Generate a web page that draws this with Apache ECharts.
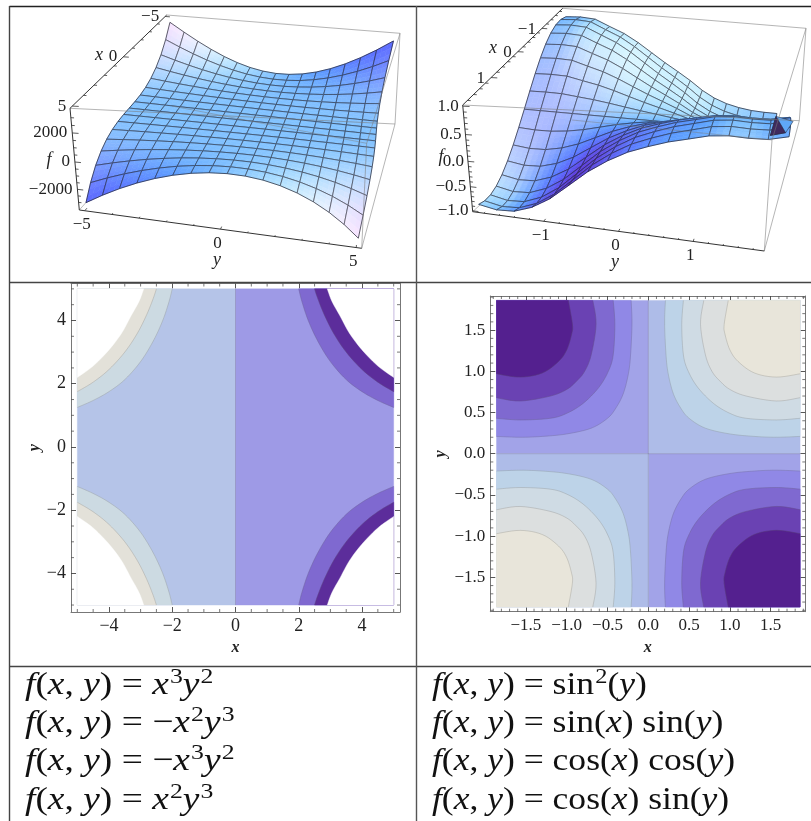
<!DOCTYPE html>
<html><head><meta charset="utf-8">
<style>html,body{margin:0;padding:0;background:#fff}#c{width:811px;height:821px}</style>
<script src="https://cdn.jsdelivr.net/npm/echarts@6/dist/echarts.min.js"></script>
</head><body><div id="c"></div>
<script>
// ---------- surface A: height profiles, back -> front and left -> right
const surfAx = [-5,-4.375,-3.75,-3.125,-2.5,-1.875,-1.25,-0.625,0,0.625,1.25,1.875,2.5,3.125,3.75,4.375,5];
const surfAy = surfAx;
const surfAxProfile = [1,0.67,0.42,0.244,0.125,0.053,0.016,0.002,0,-0.002,-0.016,-0.053,-0.125,-0.244,-0.42,-0.67,-1];
const surfAyProfile = [3125,2393,1758,1221,781,439,195,49,0,49,195,439,781,1221,1758,2393,3125];
// ---------- surface B: back half uses the back-edge profile, front half the front-edge profile
const surfBx = [-1.885,-1.649,-1.414,-1.178,-0.942,-0.707,-0.471,-0.236,0,0.236,0.471,0.707,0.942,1.178,1.414,1.649,1.885];
const surfBy = surfBx;
const surfBxProfile = [0.95,0.997,0.988,0.924,0.809,0.649,0.454,0.233,0,-0.233,-0.454,-0.649,-0.809,-0.924,-0.988,-0.997,-0.95];
const surfByBack = [0.93,0.95,0.93,0.8,0.68,0.52,0.34,0.17,0.02,-0.13,-0.29,-0.41,-0.49,-0.54,-0.57,-0.58,-0.58];
const surfByFront = [0.93,1.0,0.98,0.85,0.63,0.33,0.03,-0.2,-0.38,-0.5,-0.6,-0.67,-0.74,-0.76,-0.74,-0.74,-0.8];
// small end pieces of surface B at the far right, as (x, y, f)
const bEndBlue = [[-1.885,1.885,-0.6],[1.885,1.885,0.98],[0,1.95,0],[-1.885,1.885,-0.92]];
const bEndDark = [[-1.885,1.885,-0.6],[0,1.95,0],[-1.885,1.885,-0.92]];
// ---------- 3D tick values
const aYMajor=[-5,0,5], aYMinor=[-4,-3,-2,-1,1,2,3,4];
const aXMajor=[-5,0,5], aXMinor=[-4,-3,-2,-1,1,2,3,4];
const aZMajor=[-2000,0,2000], aZMinor=[-3000,-2500,-1500,-1000,-500,500,1000,1500,2500,3000];
const bYMajor=[-1,0,1], bYMinor=[-1.8,-1.6,-1.4,-1.2,-0.8,-0.6,-0.4,-0.2,0.2,0.4,0.6,0.8,1.2,1.4,1.6,1.8];
const bXMajor=[-1,0,1], bXMinor=bYMinor;
const bZMajor=[-1,-0.5,0,0.5,1], bZMinor=[-0.9,-0.8,-0.7,-0.6,-0.4,-0.3,-0.2,-0.1,0.1,0.2,0.3,0.4,0.6,0.7,0.8,0.9];
// ---------- contour curves of panel C (one quadrant, right edge -> top edge)
const cCurve1 = [[5,1.25],[4.5,1.47],[4,1.75],[3.5,2.13],[3,2.7],[2.6,3.35],[2.3,4.0],[2.1,4.6],[2,5]];
const cCurve2 = [[5,1.75],[4.5,2.05],[4,2.45],[3.5,3.0],[3.1,3.6],[2.8,4.2],[2.6,4.7],[2.5,5]];
const cCurve3 = [[5,2.2],[4.5,2.56],[4,3.07],[3.6,3.6],[3.3,4.15],[3.05,4.6],[2.9,5]];
// ---------- contour curves of panel D (one quadrant, right edge -> top edge)
const dCurve1 = [[1.86,0.21],[1.57,0.2],[1.3,0.21],[1.0,0.24],[0.7,0.31],[0.5,0.43],[0.4,0.55],[0.31,0.72],[0.25,0.94],[0.22,1.16],[0.2,1.57],[0.21,1.86]];
const dCurve2 = [[1.86,0.43],[1.57,0.41],[1.2,0.43],[1.0,0.49],[0.8,0.61],[0.61,0.8],[0.49,1.0],[0.43,1.2],[0.41,1.57],[0.43,1.86]];
const dCurve3 = [[1.86,0.68],[1.57,0.64],[1.2,0.70],[1.0,0.78],[0.88,0.88],[0.78,1.0],[0.7,1.2],[0.64,1.57],[0.68,1.86]];
const dCurve4 = [[1.86,0.97],[1.57,0.93],[1.3,0.98],[1.1,1.12],[1.0,1.26],[0.94,1.45],[0.93,1.57],[0.98,1.86]];
// ---------- contour axis ticks
const cMajor=[-4,-2,0,2,4];
const cMinor=[-5,-4.5,-3.5,-3,-2.5,-1.5,-1,-0.5,0.5,1,1.5,2.5,3,3.5,4.5,5];
const dMajor=[-1.5,-1,-0.5,0,0.5,1,1.5];
const dMinor=[-1.9,-1.8,-1.7,-1.6,-1.4,-1.3,-1.2,-1.1,-0.9,-0.8,-0.7,-0.6,-0.4,-0.3,-0.2,-0.1,0.1,0.2,0.3,0.4,0.6,0.7,0.8,0.9,1.1,1.2,1.3,1.4,1.6,1.7,1.8,1.9];
// ---------- equations of the table
const eqLeft = [
 '{i|f}{r|(}{i|x}{r|, }{i|y}{r|) = }{i|x}{s|3}{i|y}{s|2}',
 '{i|f}{r|(}{i|x}{r|, }{i|y}{r|) = −}{i|x}{s|2}{i|y}{s|3}',
 '{i|f}{r|(}{i|x}{r|, }{i|y}{r|) = −}{i|x}{s|3}{i|y}{s|2}',
 '{i|f}{r|(}{i|x}{r|, }{i|y}{r|) = }{i|x}{s|2}{i|y}{s|3}'];
const eqRight = [
 '{i|f}{r|(}{i|x}{r|, }{i|y}{r|) = sin}{s|2}{r|(}{i|y}{r|)}',
 '{i|f}{r|(}{i|x}{r|, }{i|y}{r|) = sin(}{i|x}{r|) sin(}{i|y}{r|)}',
 '{i|f}{r|(}{i|x}{r|, }{i|y}{r|) = cos(}{i|x}{r|) cos(}{i|y}{r|)}',
 '{i|f}{r|(}{i|x}{r|, }{i|y}{r|) = cos(}{i|x}{r|) sin(}{i|y}{r|)}'];

// ---------- layout and style
const SERIF='"Liberation Serif",serif';
const INK='#222';
const panelA={
  xr:[-5.2,5.2], yr:[-5.2,5.2], zr:[-3600,3600],
  TBL:[166.7,15],TBR:[400,33.3],TFR:[395,124],TFL:[70,108.3],
  BBL:[172,106],BBR:[366.7,143.3],BFR:[361.7,248.3],BFL:[79.3,210],
  xv:surfAx,yv:surfAy,height:(i,j)=>surfAxProfile[i]*surfAyProfile[j],
  yMajor:aYMajor,yMinor:aYMinor,xMajor:aXMajor,xMinor:aXMinor,zMajor:aZMajor,zMinor:aZMinor,
  fmtZ:v=>String(v).replace('-','−'), fmtXY:v=>String(v).replace('-','−'),
  yOff:[-3,14], xLabelOff:[-6,0], zOff:[-5,0],
  names:{y:[217,260],x:[99,55],f:[49,160]}
};
const panelB={
  xr:[-1.95,1.95], yr:[-1.95,1.95], zr:[-1.02,1.02],
  TBL:[562.7,8.3],TBR:[806,28.3],TFR:[799.3,120.7],TFL:[462.7,105],
  BBL:[572,120],BBR:[772,140],BFR:[764.3,251],BFL:[472.7,211.7],
  xv:surfBx,yv:surfBy,height:(i,j)=>surfBxProfile[i]*(surfBxProfile[i]>0?surfByBack[j]:surfByFront[j]),
  yMajor:bYMajor,yMinor:bYMinor,xMajor:bXMajor,xMinor:bXMinor,zMajor:bZMajor,zMinor:bZMinor,
  fmtZ:v=>v.toFixed(1).replace('-','−'), fmtXY:v=>String(v).replace('-','−'),
  yOff:[-3,14], xLabelOff:[-6,1], zOff:[-4,0],
  names:{y:[615,262],x:[493,48],f:[441,157]}
};

function project(p,x,y,z){
  const u=(x-p.xr[0])/(p.xr[1]-p.xr[0]), v=(y-p.yr[0])/(p.yr[1]-p.yr[0]), w=(z-p.zr[0])/(p.zr[1]-p.zr[0]);
  return projectN(p,u,v,w);
}
function projectN(p,u,v,w){
  const c=[[p.BBL,1.1,(1-u)*(1-v)*(1-w)],[p.BBR,1.1,(1-u)*v*(1-w)],[p.BFL,1.12,u*(1-v)*(1-w)],[p.BFR,1.12,u*v*(1-w)],
           [p.TBL,1.23,(1-u)*(1-v)*w],[p.TBR,1.23,(1-u)*v*w],[p.TFL,1,u*(1-v)*w],[p.TFR,1,u*v*w]];
  let sx=0,sy=0,sw=0;
  for(const [P,W,k] of c){sx+=P[0]*W*k;sy+=P[1]*W*k;sw+=W*k;}
  return [sx/sw,sy/sw];
}
const VR=[-.3,.95,-.03],VS=[-.28,-.055,.95],VD=[.90,.30,.29];
const dot=(a,b)=>a[0]*b[0]+a[1]*b[1]+a[2]*b[2];
function vertexColours(p){
  const n=p.xv.length,m=p.yv.length,col=[];
  const Z=(i,j)=>.4*(p.height(i,j)-p.zr[0])/(p.zr[1]-p.zr[0]);
  const X=i=>(p.xv[i]-p.xr[0])/(p.xr[1]-p.xr[0]), Y=j=>(p.yv[j]-p.yr[0])/(p.yr[1]-p.yr[0]);
  for(let i=0;i<n;i++){col.push([]);for(let j=0;j<m;j++){
    const i0=Math.max(i-1,0),i1=Math.min(i+1,n-1),j0=Math.max(j-1,0),j1=Math.min(j+1,m-1);
    const zx=(Z(i1,j)-Z(i0,j))/(X(i1)-X(i0)), zy=(Z(i,j1)-Z(i,j0))/(Y(j1)-Y(j0));
    const L=Math.hypot(zx,zy,1); let N=[-zx/L,-zy/L,1/L];
    const nv=[dot(N,VR),dot(N,VS),Math.abs(dot(N,VD))];
    const l1=Math.max(0,(nv[0]+nv[2])/1.414), l2=Math.max(0,(nv[0]+nv[1]+nv[2])/1.732), l3=Math.max(0,(nv[1]+nv[2])/1.414);
    col[i].push([.36+.8*l1,.2+.8*l2,.42+.8*l3].map(a=>Math.min(1,a)));
  }}
  return col;
}
const lerp=(a,b,t)=>a+(b-a)*t;
function colourStr(c){return 'rgb('+c.map(a=>Math.round(a*255)).join(',')+')';}

function surfaceSeries(p){
  const n=p.xv.length,m=p.yv.length,col=vertexColours(p),cells=[];
  for(let i=0;i<n-1;i++)for(let j=0;j<m-1;j++)cells.push([i,j]);
  return {type:'custom',coordinateSystem:'cartesian2d',xAxisIndex:0,yAxisIndex:0,clip:false,silent:true,z:3,
    data:cells,encode:{x:0,y:1},animation:false,
    renderItem(par,api){
      const i=api.value(0),j=api.value(1);
      const P=(a,b)=>api.coord(project(p,p.xv[a],p.yv[b],p.height(a,b)));
      const q=[P(i,j),P(i,j+1),P(i+1,j+1),P(i+1,j)];
      const ch=[],S=3;
      const at=(s,t)=>[lerp(lerp(q[0][0],q[1][0],t),lerp(q[3][0],q[2][0],t),s),lerp(lerp(q[0][1],q[1][1],t),lerp(q[3][1],q[2][1],t),s)];
      const ca=(s,t)=>[0,1,2].map(k=>lerp(lerp(col[i][j][k],col[i][j+1][k],t),lerp(col[i+1][j][k],col[i+1][j+1][k],t),s));
      for(let a=0;a<S;a++)for(let b=0;b<S;b++){
        const c=colourStr(ca((a+.5)/S,(b+.5)/S));
        ch.push({type:'polygon',shape:{points:[at(a/S,b/S),at(a/S,(b+1)/S),at((a+1)/S,(b+1)/S),at((a+1)/S,b/S)]},style:{fill:c,stroke:c,lineWidth:.6}});
      }
      const mesh=(a,b,w)=>({type:'line',shape:{x1:a[0],y1:a[1],x2:b[0],y2:b[1]},style:{stroke:'#23232f',lineWidth:w,opacity:.8}});
      ch.push(mesh(q[0],q[1],i===0?.9:.75),mesh(q[1],q[2],j===m-2?.9:.75),mesh(q[2],q[3],i===n-2?.9:.75),mesh(q[3],q[0],j===0?.9:.75));
      return {type:'group',children:ch};
    }};
}
function endPieceSeries(p){
  const pieces=[{pts:bEndBlue,fill:'#5fa8f8'},{pts:bEndDark,fill:'#3f2a5e'}];
  return {type:'custom',coordinateSystem:'cartesian2d',xAxisIndex:0,yAxisIndex:0,clip:false,silent:true,z:3,
    data:pieces.map((d,k)=>[k,k]),encode:{x:0,y:1},animation:false,
    renderItem(par,api){
      const d=pieces[api.value(0)];
      return {type:'polygon',shape:{points:d.pts.map(q=>api.coord(project(p,q[0],q[1],q[2])))},style:{fill:d.fill,stroke:'#23232f',lineWidth:.5}};
    }};
}
function boxSeries(p,back){
  return {type:'custom',coordinateSystem:'cartesian2d',xAxisIndex:0,yAxisIndex:0,clip:false,silent:true,z:back?2:4,
    data:[[0,0]],encode:{x:0,y:1},animation:false,
    renderItem(par,api){
      const ch=[];
      const ln=(a,b,c,w)=>{const A=api.coord(a),B=api.coord(b);ch.push({type:'line',shape:{x1:A[0],y1:A[1],x2:B[0],y2:B[1]},style:{stroke:c,lineWidth:w}});};
      const G='rgba(120,120,120,.55)',K='#333';
      if(back){
        ln(p.BBL,p.BFL,G,.9);
        return {type:'group',children:ch};
      }
      ln(p.TBL,p.TBR,G,1);ln(p.TBR,p.TFR,G,1);ln(p.TFR,p.TFL,G,1);
      ln(p.TBR,p.BBR,G,1);ln(p.TFR,p.BFR,G,1);ln(p.BBL,p.BBR,G,.8);ln(p.BBR,p.BFR,G,1);
      ln(p.TFL,p.BFL,K,1);ln(p.BFL,p.BFR,K,1);ln(p.TBL,p.TFL,K,1);
      const txt=(s,q,o,al,sz,it)=>{const A=api.coord(q);ch.push({type:'text',x:A[0]+o[0],y:A[1]+o[1],style:{text:s,fill:INK,align:al,verticalAlign:'middle',fontFamily:SERIF,fontSize:sz||17,fontStyle:it?'italic':'normal'}});};
      const tn=v=>(v-p.yr[0])/(p.yr[1]-p.yr[0]), tx=v=>(v-p.xr[0])/(p.xr[1]-p.xr[0]), tz=v=>(v-p.zr[0])/(p.zr[1]-p.zr[0]);
      p.yMajor.concat(p.yMinor).forEach((v,k)=>{const maj=k<p.yMajor.length,P=projectN(p,1,tn(v),0),E=projectN(p,maj?.975:.987,tn(v),0);ln(P,E,K,.8);if(maj)txt(p.fmtXY(v),P,p.yOff,'center');});
      p.xMajor.concat(p.xMinor).forEach((v,k)=>{const maj=k<p.xMajor.length,P=projectN(p,tx(v),0,1),E=projectN(p,tx(v),maj?.02:.01,1);ln(P,E,K,.8);if(maj)txt(p.fmtXY(v),P,p.xLabelOff,'right');});
      p.zMajor.concat(p.zMinor).forEach((v,k)=>{const maj=k<p.zMajor.length,P=projectN(p,1,0,tz(v)),E=projectN(p,1,maj?.02:.01,tz(v));ln(P,E,K,.8);if(maj)txt(p.fmtZ(v),P,p.zOff,'right');});
      txt('y',p.names.y,[0,0],'center',18,true);txt('x',p.names.x,[0,0],'center',18,true);txt('f',p.names.f,[0,0],'center',18,true);
      return {type:'group',children:ch};
    }};
}

// Catmull-Rom drawing of a contour through its read points (rendering only)
function smoothCurve(c){
  const out=[];
  for(let k=0;k<c.length-1;k++){
    const a=c[Math.max(k-1,0)],b=c[k],d=c[k+1],e=c[Math.min(k+2,c.length-1)];
    for(let s=0;s<6;s++){const t=s/6,t2=t*t,t3=t2*t;
      out.push([0,1].map(q=>.5*(2*b[q]+(d[q]-a[q])*t+(2*a[q]-5*b[q]+4*d[q]-e[q])*t2+(3*b[q]-a[q]-3*d[q]+e[q])*t3)));}
  }
  out.push(c[c.length-1]);
  return out;
}
function flip(c,sx,sy){return c.map(q=>[q[0]*sx,q[1]*sy]);}
function regionsC(){
  const r=[];
  r.push({fill:'#b5c4e8',pts:[[-5,-5],[0,-5],[0,5],[-5,5]]});
  r.push({fill:'#9e9ae6',pts:[[0,-5],[5,-5],[5,5],[0,5]]});
  const light=['#ccdae2','#e3e1d9','#ffffff'],dark=['#7f69d0','#5c2d9b','#ffffff'];
  [[1,1],[1,-1],[-1,1],[-1,-1]].forEach(([sx,sy])=>{
    const pal=sx>0?dark:light;
    [cCurve1,cCurve2,cCurve3].forEach((c,k)=>{
      const f=flip(smoothCurve(c),sx,sy);
      r.push({fill:pal[k],pts:f.concat([[5*sx,5*sy]]),curve:f,line:k<2});
    });
  });
  r.push({fill:null,curve:[[0,-5],[0,5]],line:true});
  return r;
}
function regionsD(){
  const r=[],E=1.86;
  const light=['#aebce8','#bdd3e8','#cfdbe4','#dcdfdf','#e8e5da'],dark=['#a2a3e8','#9088e6','#7f69d0','#6a42b3','#54208f'];
  [[1,1],[-1,1],[1,-1],[-1,-1]].forEach(([sx,sy])=>{
    const pal=sx*sy>0?light:dark;
    r.push({fill:pal[0],pts:[[0,0],[E*sx,0],[E*sx,E*sy],[0,E*sy]]});
    [dCurve1,dCurve2,dCurve3,dCurve4].forEach((c,k)=>{
      const f=flip(smoothCurve(c),sx,sy);
      r.push({fill:pal[k+1],pts:f.concat([[E*sx,E*sy]]),curve:f,line:true});
    });
  });
  r.push({fill:null,curve:[[0,-E],[0,E]],line:true});
  r.push({fill:null,curve:[[-E,0],[E,0]],line:true});
  return r;
}
function contourSeries(regions,idx){
  return {type:'custom',coordinateSystem:'cartesian2d',xAxisIndex:idx,yAxisIndex:idx,clip:false,silent:true,z:2,
    data:regions.map((r,k)=>[k,k]),encode:{x:0,y:1},animation:false,
    renderItem(par,api){
      const r=regions[api.value(0)],ch=[];
      if(r.fill)ch.push({type:'polygon',shape:{points:r.pts.map(q=>api.coord(q))},style:{fill:r.fill,stroke:r.fill,lineWidth:.4}});
      if(r.curve&&r.line)ch.push({type:'polyline',shape:{points:r.curve.map(q=>api.coord(q))},style:{fill:null,stroke:'rgba(90,90,90,.22)',lineWidth:1}});
      return {type:'group',children:ch};
    }};
}
function minorSeries(minor,ax,ay,xr,yr){
  const items=[];
  minor.forEach(v=>{ if(v>=xr[0]&&v<=xr[1]){items.push([v,yr[0],0,-1,3]);items.push([v,yr[1],0,1,3]);}
                     if(v>=yr[0]&&v<=yr[1]){items.push([xr[0],v,1,0,3]);items.push([xr[1],v,-1,0,3]);} });
  return {type:'custom',coordinateSystem:'cartesian2d',xAxisIndex:ax,yAxisIndex:ay,clip:false,silent:true,z:3,
    data:items,encode:{x:0,y:1},animation:false,
    renderItem(par,api){
      const A=api.coord([api.value(0),api.value(1)]),dx=api.value(2),dy=api.value(3),l=api.value(4);
      return {type:'line',shape:{x1:A[0],y1:A[1],x2:A[0]+dx*l,y2:A[1]+dy*l},style:{stroke:'#555',lineWidth:.8}};
    }};
}
function valueAxis(grid,pos,range,major,fmt,labels,size,name,gap){
  return {type:'value',gridIndex:grid,position:pos,min:range[0],max:range[1],splitLine:{show:false},scale:false,
    axisLine:{show:true,onZero:false,lineStyle:{color:'#777',width:1}},
    axisTick:{show:true,inside:true,length:5,customValues:major,lineStyle:{color:'#444',width:.9}},
    axisLabel:{show:labels,customValues:major,formatter:fmt,fontFamily:SERIF,fontSize:size,color:INK,margin:5,hideOverlap:false,showMinLabel:true,showMaxLabel:true},
    name:name||'',nameLocation:'middle',nameGap:gap||0,
    nameTextStyle:{fontFamily:SERIF,fontStyle:'italic',fontWeight:'bold',fontSize:16,color:INK}};
}
const fmtC=v=>String(v).replace('-','−');
const fmtD=v=>v.toFixed(1).replace('-','−');
const cX=[-5.2,5.2],cY=[-5.22,5.17];
const dX=[-1.936,1.924],dY=[-1.917,1.914];

const eqRich={
  i:{fontFamily:SERIF,fontStyle:'italic',fontSize:32,fill:'#111',lineHeight:40,verticalAlign:'middle'},
  r:{fontFamily:SERIF,fontSize:32,fill:'#111',lineHeight:40,verticalAlign:'middle'},
  s:{fontFamily:SERIF,fontSize:22,fill:'#111',lineHeight:28,verticalAlign:'top',padding:[0,0,0,1]}
};
const eqRows=[686,724,762,801];
const tableLine=(x1,y1,x2,y2,c,w)=>({type:'line',silent:true,z:10,shape:{x1,y1,x2,y2},style:{stroke:c,lineWidth:w}});
const graphic=[
  tableLine(9.5,6.5,811,6.5,'#222',1.4),
  tableLine(9.5,282.5,811,282.5,'#444',1.6),
  tableLine(9.5,666.5,811,666.5,'#444',1.4),
  tableLine(9.5,6,9.5,821,'#444',1.4),
  tableLine(416.5,6,416.5,821,'#555',1.4)
];
eqLeft.forEach((t,k)=>graphic.push({type:'text',silent:true,z:10,x:25,y:eqRows[k],scaleX:1.17,style:{text:t,rich:eqRich,verticalAlign:'middle',align:'left'}}));
eqRight.forEach((t,k)=>graphic.push({type:'text',silent:true,z:10,x:432,y:eqRows[k],scaleX:1.11,style:{text:t,rich:eqRich,verticalAlign:'middle',align:'left'}}));

const hidden=i=>({type:'value',gridIndex:0,min:0,max:i?821:811,inverse:!!i,show:false,splitLine:{show:false}});
const option={
  animation:false,backgroundColor:'#fff',
  grid:[
    {left:0,top:0,width:811,height:821},
    {left:71,top:283.5,width:329,height:328.5},
    {left:490.3,top:296,width:315,height:315.7}
  ],
  xAxis:[hidden(0),
    valueAxis(1,'bottom',cX,cMajor,fmtC,true,18,'x',28),
    valueAxis(2,'bottom',dX,dMajor,fmtD,true,17,'x',28)],
  yAxis:[hidden(1),
    valueAxis(1,'left',cY,cMajor,fmtC,true,18,'y',27),
    valueAxis(2,'left',dY,dMajor,fmtD,true,17,'y',41)],
  graphic:graphic,
  series:[
    boxSeries(panelA,true),surfaceSeries(panelA),boxSeries(panelA,false),
    boxSeries(panelB,true),surfaceSeries(panelB),endPieceSeries(panelB),boxSeries(panelB,false),
    contourSeries(regionsC(),1),contourSeries(regionsD(),2),
    minorSeries(cMinor,1,1,cX,cY),minorSeries(dMinor,2,2,dX,dY)
  ]
};
option.xAxis.push(valueAxis(1,'top',cX,cMajor,fmtC,false,18),valueAxis(2,'top',dX,dMajor,fmtD,false,17));
option.yAxis.push(valueAxis(1,'right',cY,cMajor,fmtC,false,18),valueAxis(2,'right',dY,dMajor,fmtD,false,17));
const chart=echarts.init(document.getElementById('c'),null,{renderer:'canvas',width:811,height:821});
chart.setOption(option);
</script></body></html>
